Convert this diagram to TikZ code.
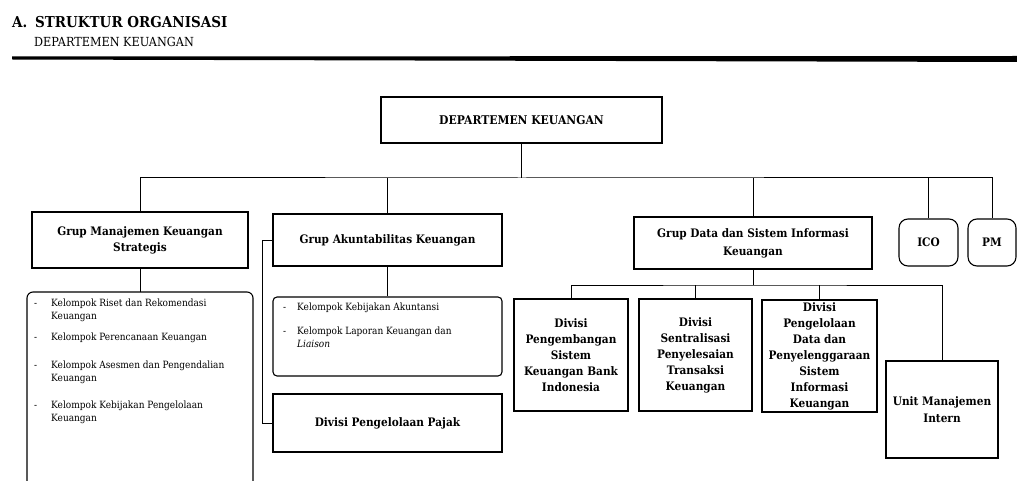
\documentclass[tikz,border=0pt]{standalone}
\usepackage{fontspec}
\setmainfont{DejaVu Serif}[FakeStretch=0.9]
\newcommand\orglbl{\bfseries\fontsize{11.7}{16}\selectfont}
\newcommand\orglist{\fontsize{10}{13}\selectfont}
\begin{document}
\begin{tikzpicture}[x=1pt,y=-1pt,
  box/.style={draw, line width=1.1pt, inner sep=0pt, align=center, font=\orglbl},
  rbox/.style={box, rounded corners=9pt},
  conn/.style={line width=1pt},
  listtext/.style={inner sep=0pt, font=\orglist, anchor=base west}]
\useasboundingbox (0,0) rectangle (1017,481);

% header
\node[anchor=base west, inner sep=0pt, font=\bfseries\fontsize{15}{18}\selectfont] (title) at (12,28) {\makebox[23pt][l]{A.}STRUKTUR ORGANISASI};
\node[anchor=base west, inner sep=0pt, font=\fontsize{12.5}{15}\selectfont] (subtitle) at (34,47) {DEPARTEMEN KEUANGAN};
\fill (12,56.5) -- (1017,56) -- (1017,62) -- (12,59.5) -- cycle;

% top
\node[box, minimum width=281pt, minimum height=46pt, font=\bfseries\fontsize{12}{15}\selectfont] (dep) at (521.5,120) {DEPARTEMEN KEUANGAN};

% groups
\node[box, minimum width=216pt, minimum height=56pt] (gmks) at (140,240) {Grup Manajemen Keuangan\\Strategis};
\node[box, minimum width=229pt, minimum height=52pt] (gak) at (387.5,240) {Grup Akuntabilitas Keuangan};
\node[box, minimum width=238pt, minimum height=52pt, font=\bfseries\fontsize{11.7}{18}\selectfont] (gdsik) at (753,243) {Grup Data dan Sistem Informasi\\Keuangan};
\node[rbox, minimum width=59pt, minimum height=47pt] (ico) at (928.5,242.5) {ICO};
\node[rbox, minimum width=48pt, minimum height=47pt] (pm) at (992,242.5) {PM};

% bus
\coordinate (bus) at (521.5,178);
\draw[conn] (gmks.north) |- (bus) -| (pm.north);
\draw[conn] (dep.south) -- (dep.south |- bus);
\draw[conn] (gak.north) -- (gak.north |- bus);
\draw[conn] (gdsik.north) -- (gdsik.north |- bus);
\draw[conn] (ico.north) -- (ico.north |- bus);

% Grup Manajemen list
\coordinate (gmtop) at (140,292);
\draw[line width=1.1pt, rounded corners=6pt] (27,481) -- (27,292) -- (253,292) -- (253,481);
\draw[conn] (gmks.south) -- (gmtop);
\node[listtext] (gmlist) at (34,306.5) {%
\begin{tabular}[t]{@{}p{17pt}@{}l@{}}
- & Kelompok Riset dan Rekomendasi\\
  & Keuangan\\[8pt]
- & Kelompok Perencanaan Keuangan\\[15pt]
- & Kelompok Asesmen dan Pengendalian\\
  & Keuangan\\[14pt]
- & Kelompok Kebijakan Pengelolaan\\
  & Keuangan
\end{tabular}};

% Grup Akuntabilitas
\node[draw, line width=1.1pt, rounded corners=4pt, minimum width=229pt, minimum height=79pt] (gaklist) at (387.5,336.5) {};
\node[listtext] (gaktext) at (283,310.5) {%
\begin{tabular}[t]{@{}p{14pt}@{}l@{}}
- & Kelompok Kebijakan Akuntansi\\[11pt]
- & Kelompok Laporan Keuangan dan\\
  & \textit{Liaison}
\end{tabular}};
\draw[conn] (gak.south) -- (gaklist.north);
\node[box, minimum width=229pt, minimum height=58pt] (pajak) at (387.5,423) {Divisi Pengelolaan Pajak};
\draw[conn] (gak.west) -- ++(-10,0) |- (pajak.west);

% Grup Data divisions
\node[box, minimum width=114pt, minimum height=112pt] (d1) at (571,355) {Divisi\\Pengembangan\\Sistem\\Keuangan Bank\\Indonesia};
\node[box, minimum width=113pt, minimum height=112pt] (d2) at (695.5,355) {Divisi\\Sentralisasi\\Penyelesaian\\Transaksi\\Keuangan};
\node[box, minimum width=115pt, minimum height=112pt] (d3) at (819.5,356) {Divisi\\Pengelolaan\\Data dan\\Penyelenggaraan\\Sistem\\Informasi\\Keuangan};
\node[box, minimum width=112pt, minimum height=97pt, font=\bfseries\fontsize{11.7}{17}\selectfont] (uni) at (942,409.5) {Unit Manajemen\\Intern};

\coordinate (sub) at (753,285);
\draw[conn] (gdsik.south) -- (gdsik.south |- sub);
\draw[conn] (d1.north) |- (sub) -| (uni.north);
\draw[conn] (d2.north) -- (d2.north |- sub);
\draw[conn] (d3.north) -- (d3.north |- sub);
\end{tikzpicture}
\end{document}
